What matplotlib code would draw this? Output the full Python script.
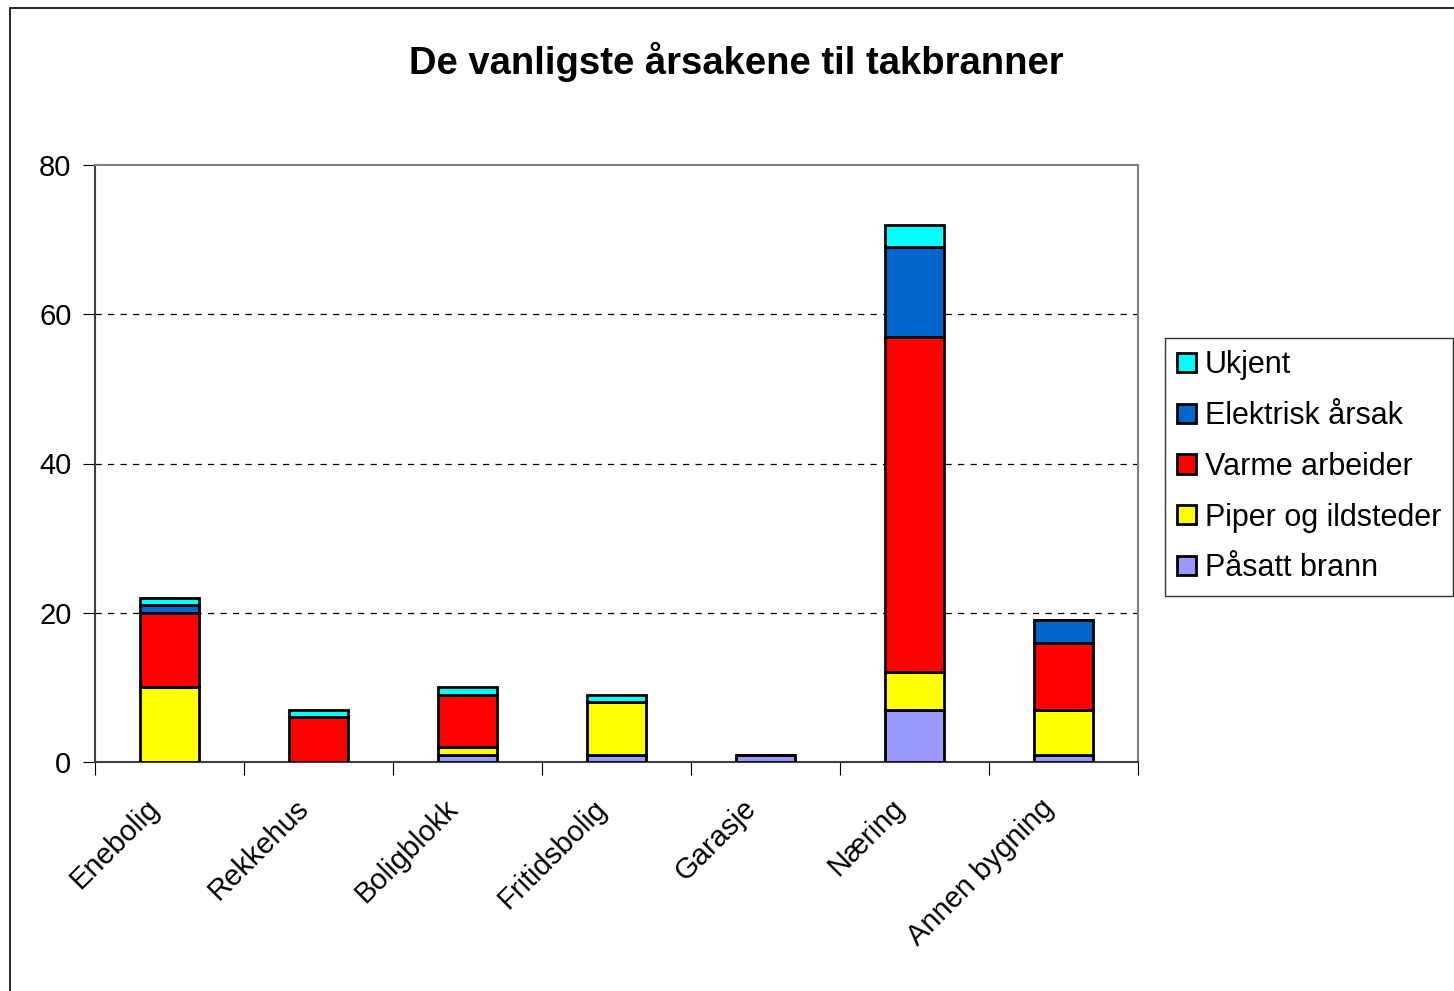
import matplotlib.pyplot as plt
import matplotlib.patches as mpatches
import matplotlib.transforms as mtransforms
import numpy as np

plt.rcParams['font.family'] = ['Liberation Sans', 'DejaVu Sans']

categories = ["Enebolig", "Rekkehus", "Boligblokk", "Fritidsbolig", "Garasje", "Næring", "Annen bygning"]
series_names = ["Påsatt brann", "Piper og ildsteder", "Varme arbeider", "Elektrisk årsak", "Ukjent"]
pasatt = [0, 0, 1, 1, 1, 7, 1]
piper = [10, 0, 1, 7, 0, 5, 6]
varme = [10, 6, 7, 0, 0, 45, 9]
elektrisk = [1, 0, 0, 0, 0, 12, 3]
ukjent = [1, 1, 1, 1, 0, 3, 0]
colors = ["#9999ff", "#ffff00", "#ff0000", "#0066cc", "#00ffff"]

fig = plt.figure(figsize=(14.54, 9.91), dpi=100)
ax = fig.add_axes([95 / 1454, 1 - 762 / 991, (1138 - 95) / 1454, (762 - 165) / 991])

x = np.arange(len(categories))
bottom = np.zeros(len(categories))
handles = []
for name, vals, col in zip(series_names, [pasatt, piper, varme, elektrisk, ukjent], colors):
    vals = np.array(vals, dtype=float)
    b = ax.bar(x, vals, 0.4, bottom=bottom, color=col, edgecolor="black",
               linewidth=2, label=name, zorder=3)
    handles.append(b)
    bottom += vals

ax.set_xlim(-0.5, len(categories) - 0.5)
ax.set_ylim(0, 80)
ax.set_yticks([0, 20, 40, 60, 80])
ax.tick_params(axis="y", labelsize=21, length=9, direction="out", pad=8)
ax.set_xticks(np.arange(len(categories) + 1) - 0.5, minor=False)
ax.set_xticklabels([])
ax.tick_params(axis="x", length=9, direction="out")
ax.set_xticks(x, minor=True)
ax.set_xticklabels(categories, minor=True, rotation=45, ha="right", va="top",
                   rotation_mode="anchor", fontsize=21)
ax.tick_params(axis="x", which="minor", length=0, pad=23)
shift = mtransforms.ScaledTranslation(-24 / 100, 0, fig.dpi_scale_trans)
for lbl in ax.get_xticklabels(minor=True):
    lbl.set_transform(lbl.get_transform() + shift)

for y in [20, 40, 60]:
    ax.axhline(y, color="black", linestyle=(0, (5, 5)), linewidth=0.9, zorder=1)

for side in ["top", "right"]:
    ax.spines[side].set_color("#808080")
    ax.spines[side].set_linewidth(1.5)
for side in ["left", "bottom"]:
    ax.spines[side].set_color("#404040")
    ax.spines[side].set_linewidth(1.5)

fig.suptitle("De vanligste årsakene til takbranner", x=736 / 1454, y=1 - 62 / 991,
             va="center", fontsize=27.5, fontweight="bold")

leg = fig.legend(handles[::-1], series_names[::-1], loc="upper left",
                 bbox_to_anchor=(1165 / 1454, 1 - 338 / 991), fontsize=22,
                 frameon=True, fancybox=False, edgecolor="black",
                 handlelength=0.6, handleheight=0.6, handletextpad=0.3,
                 labelspacing=0.68, borderpad=0.4, borderaxespad=0)
leg.get_frame().set_linewidth(1)

fig.patches.append(mpatches.Rectangle((10 / 1454, -0.05), 1.2, 1.05 - 8 / 991,
                                      transform=fig.transFigure, fill=False,
                                      edgecolor="black", linewidth=1.2))

fig.savefig("out.png", dpi=100)
